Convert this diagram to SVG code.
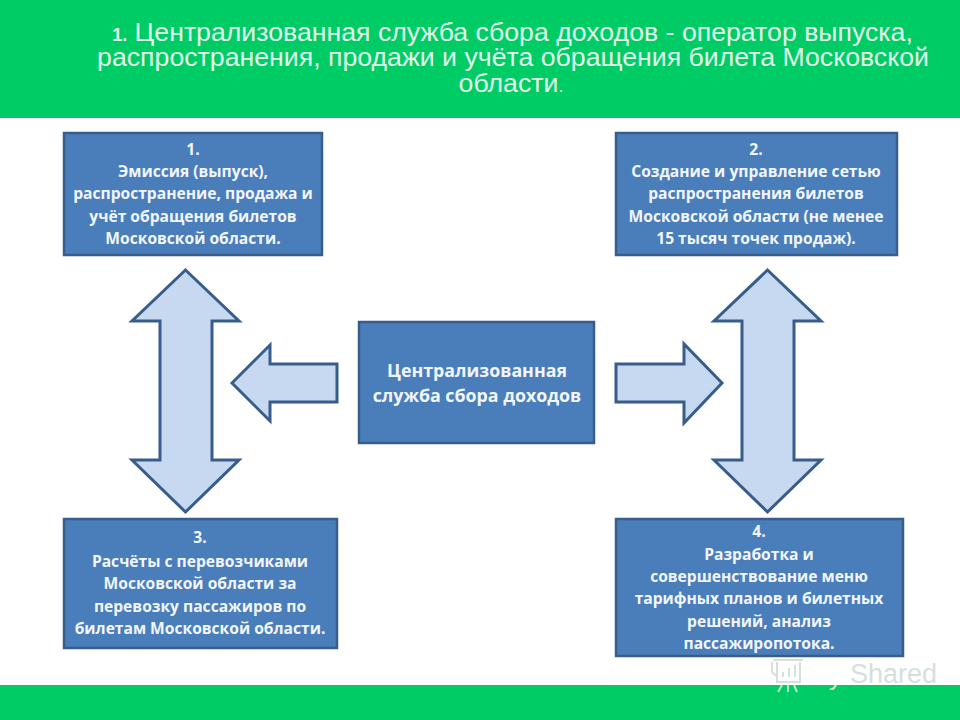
<svg xmlns="http://www.w3.org/2000/svg" width="960" height="720" viewBox="0 0 960 720">
<style>
.band{fill:#00cc66}
.title{font-family:"Liberation Sans",Arial,sans-serif;font-size:26.700px;fill:#e0f7ea;text-anchor:middle}
.box{fill:#4a7ebb;stroke:#385d8a;stroke-width:2.500}
.arrow{fill:#c6d9f0;stroke:#385d8a;stroke-width:3;stroke-linejoin:miter}
.label{font-family:"Open Sans","Noto Sans",sans-serif;font-weight:700;font-size:15.600px;fill:#f2f6fb;text-anchor:middle}
.big{font-size:17.800px}
.wm{font-family:"Liberation Sans",Arial,sans-serif;font-size:27px;fill:#d5e0dc}
.wmi{fill:none;stroke:#d5e0dc;stroke-width:2}
.wmb{fill:none;stroke:#b5ebcf;stroke-width:2}
</style>
<defs><clipPath id="onband"><rect x="0" y="685" width="960" height="35"/></clipPath></defs>
<rect class="band" x="0" y="0" width="960" height="118"/>
<rect class="band" x="0" y="685" width="960" height="35"/>
<g id="watermark">
<path class="wmi" d="M773 660H803M772 662V672L776 676M777 662V682H800V662"/>
<path class="wmi" d="M783 677V672M789 677V668M795 677V665"/>
<path class="wmb" d="M782 685L778 692M788 685V692M794 685L797 692"/>
<text x="829" y="684" font-family="Liberation Sans, Arial, sans-serif" font-size="27" fill="#cfeedd" clip-path="url(#onband)">y</text>
<text class="wm" x="850" y="683">Shared</text>
</g>
<g id="title">
<text class="title" y="41"><tspan x="512.500"><tspan font-size="18" font-weight="bold">1.</tspan> Централизованная служба сбора доходов - оператор выпуска,</tspan></text>
<text class="title" x="513" y="66">распространения, продажи и  учёта обращения билета Московской</text>
<text class="title" x="511" y="92">области<tspan font-size="18">.</tspan></text>
</g>
<g id="connectors">
<path class="arrow" d="M185.500 270L239 321H212V460H239L185.500 512L132 460H160V321H132Z"/>
<path class="arrow" d="M767.500 270L821 321H794V460H821L767.500 512L714 460H742V321H714Z"/>
<path class="arrow" d="M232 383L270 345V364H337V402H270V421Z"/>
<path class="arrow" d="M722 383L684 344V364H616V402H684V423Z"/>
</g>
<g id="node-1">
<rect class="box" x="64" y="133" width="258" height="122"/>
<text class="label" x="193" y="155">1.</text>
<text class="label" x="193" y="177">Эмиссия (выпуск),</text>
<text class="label" x="193" y="199">распространение, продажа и</text>
<text class="label" x="193" y="222">учёт обращения билетов</text>
<text class="label" x="193" y="244">Московской области.</text>
</g>
<g id="node-2">
<rect class="box" x="616" y="133" width="281" height="122"/>
<text class="label" x="756" y="155">2.</text>
<text class="label" x="756" y="177">Создание и управление сетью</text>
<text class="label" x="756" y="199">распространения билетов</text>
<text class="label" x="756" y="222">Московской области (не менее</text>
<text class="label" x="756" y="244">15 тысяч точек продаж).</text>
</g>
<g id="node-3">
<rect class="box" x="64" y="519" width="273" height="129"/>
<text class="label" x="200" y="543">3.</text>
<text class="label" x="200" y="567">Расчёты с перевозчиками</text>
<text class="label" x="200" y="589">Московской области  за</text>
<text class="label" x="200" y="612">перевозку пассажиров по</text>
<text class="label" x="200" y="634">билетам Московской области.</text>
</g>
<g id="node-4">
<rect class="box" x="616" y="519" width="287" height="137"/>
<text class="label" x="759" y="537">4.</text>
<text class="label" x="759" y="560">Разработка и</text>
<text class="label" x="759" y="582">совершенствование меню</text>
<text class="label" x="759" y="604">тарифных планов и билетных</text>
<text class="label" x="759" y="627">решений, анализ</text>
<text class="label" x="759" y="649">пассажиропотока.</text>
</g>
<g id="node-center">
<rect class="box" x="359" y="322" width="235" height="121"/>
<text class="label big" x="477" y="377">Централизованная</text>
<text class="label big" x="477" y="402">служба сбора доходов</text>
</g>
</svg>
